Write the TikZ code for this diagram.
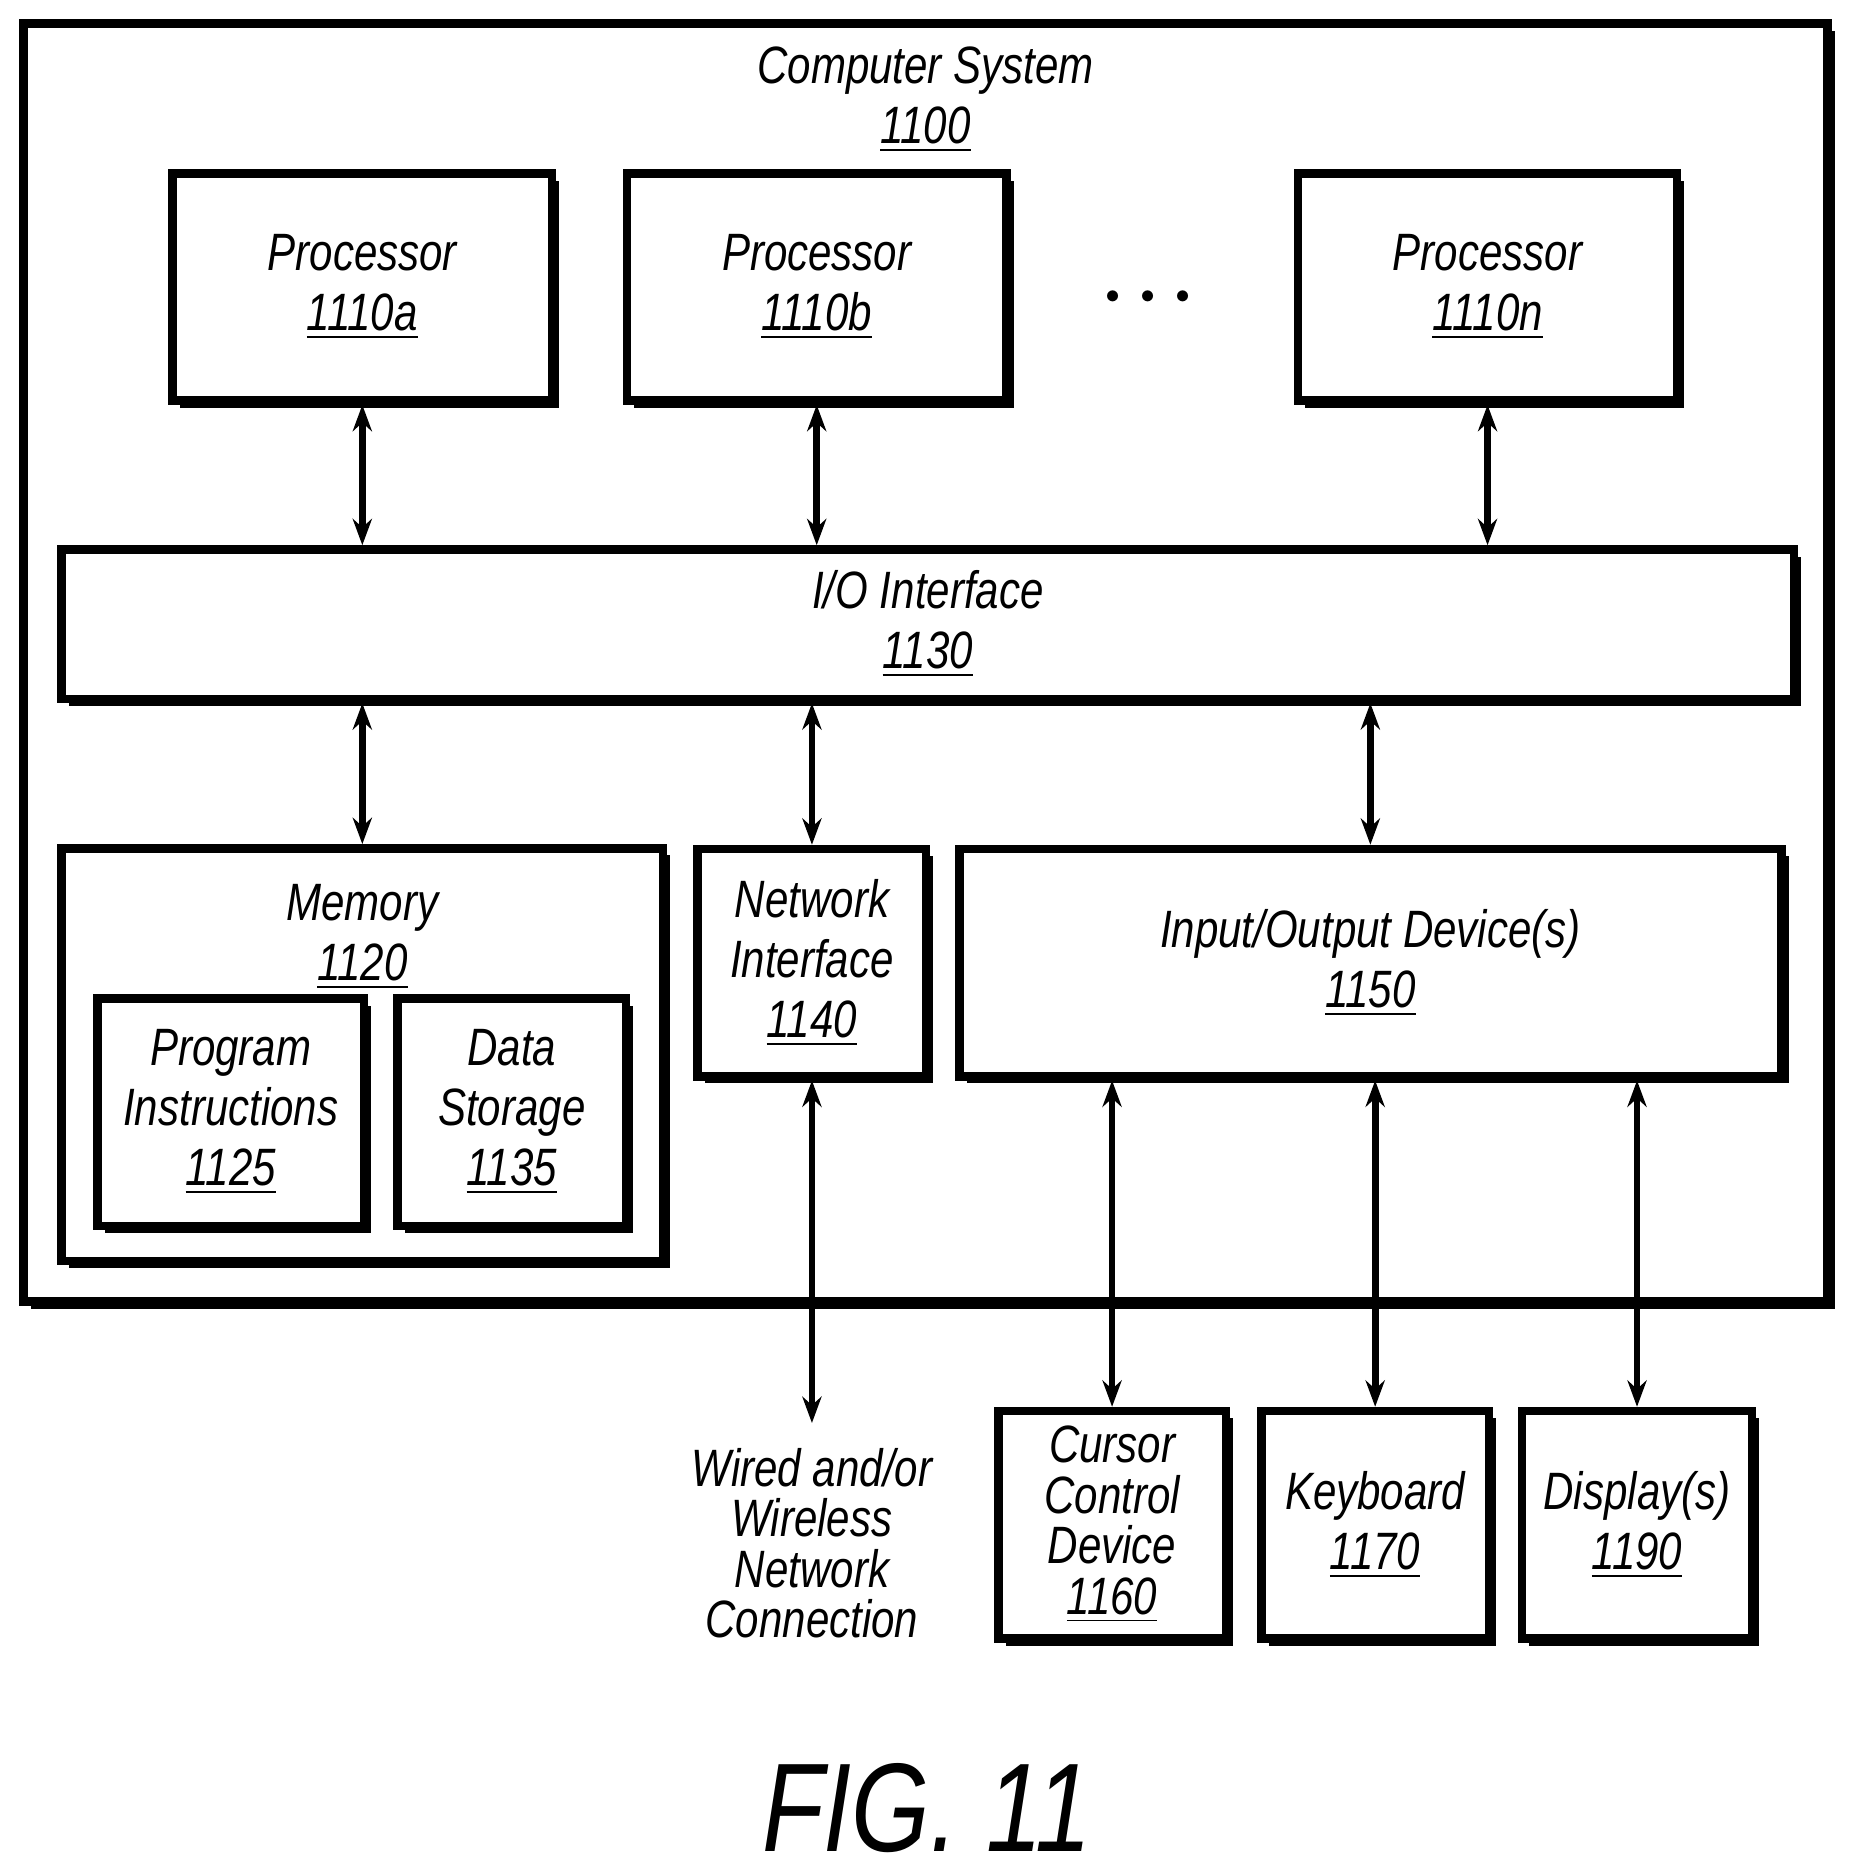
\documentclass[tikz,border=0pt]{standalone}
\usepackage{fontspec}
\setmainfont{Liberation Sans}[FakeStretch=0.8]
\usetikzlibrary{shadows,arrows.meta}
\tikzset{
  every picture/.style={line width=2pt},
  box/.style={draw, fill=white, align=center, inner sep=0pt,
    font=\itshape\fontsize{12.5}{14.3}\selectfont,
    drop shadow={shadow xshift=0.06cm, shadow yshift=-0.06cm, fill=black, opacity=1}},
  link/.style={{Stealth[length=0.22cm,width=0.16cm]}-{Stealth[length=0.22cm,width=0.16cm]}, line width=1.6pt},
  lbl/.style={align=center, font=\itshape\fontsize{12.5}{14.3}\selectfont}
}
\begin{document}
\begin{tikzpicture}[x=0.01cm,y=-0.01cm]
\useasboundingbox (0,0) rectangle (1550,1568);
% outer system
\node[box, minimum width=15.08cm, minimum height=10.68cm] (sys) at (774,554) {};
\node[lbl, anchor=north] (syslbl) at (774,24) {Computer System\\\underline{1100}};
% processors
\node[box, minimum width=3.17cm, minimum height=1.9cm] (pa) at (303,240) {Processor\\\underline{1110a}};
\node[box, minimum width=3.17cm, minimum height=1.9cm] (pb) at (683,240) {Processor\\\underline{1110b}};
\node[box, minimum width=3.17cm, minimum height=1.9cm] (pn) at (1244,240) {Processor\\\underline{1110n}};
\node[font=\fontsize{30}{30}\selectfont] (dots) at (960,250) {$\cdot\!\cdot\!\cdot$};
% I/O interface
\node[box, minimum width=14.48cm, minimum height=1.25cm] (io) at (776,522) {I/O Interface\\\underline{1130}};
% memory
\node[box, minimum width=5.03cm, minimum height=3.45cm] (mem) at (303,882) {};
\node[lbl, anchor=north] (memlbl) at (303,724) {Memory\\\underline{1120}};
\node[box, minimum width=2.23cm, minimum height=1.9cm] (prog) at (193,930) {Program\\Instructions\\\underline{1125}};
\node[box, minimum width=1.91cm, minimum height=1.9cm] (data) at (428,930) {Data\\Storage\\\underline{1135}};
% network and devices
\node[box, minimum width=1.91cm, minimum height=1.9cm] (net) at (679,805) {Network\\Interface\\\underline{1140}};
\node[box, minimum width=6.87cm, minimum height=1.9cm] (iod) at (1146,805) {Input/Output Device(s)\\\underline{1150}};
\node[box, minimum width=1.9cm, minimum height=1.9cm, font=\itshape\fontsize{12.5}{12}\selectfont] (cur) at (930,1275) {Cursor\\Control\\Device\\\underline{1160}};
\node[box, minimum width=1.9cm, minimum height=1.9cm] (kbd) at (1150,1275) {Keyboard\\\underline{1170}};
\node[box, minimum width=1.92cm, minimum height=1.9cm] (disp) at (1369,1275) {Display(s)\\\underline{1190}};
\coordinate (wire) at (679,1190);
\node[lbl, anchor=north, font=\itshape\fontsize{12.5}{12}\selectfont] (wirelbl) at (679,1196) {Wired and/or\\Wireless\\Network\\Connection};
% connectors
\draw[link] (pa.south) -- (pa.south |- io.north);
\draw[link] (pb.south) -- (pb.south |- io.north);
\draw[link] (pn.south) -- (pn.south |- io.north);
\draw[link] (io.south -| mem.north) -- (mem.north);
\draw[link] (io.south -| net.north) -- (net.north);
\draw[link] (io.south -| iod.north) -- (iod.north);
\draw[link] (net.south) -- (wire);
\draw[link] (iod.south -| cur.north) -- (cur.north);
\draw[link] (iod.south -| kbd.north) -- (kbd.north);
\draw[link] (iod.south -| disp.north) -- (disp.north);
\node[font=\itshape\fontsize{30}{30}\selectfont] (fig) at (775,1512) {FIG. 11};
\end{tikzpicture}
\end{document}
